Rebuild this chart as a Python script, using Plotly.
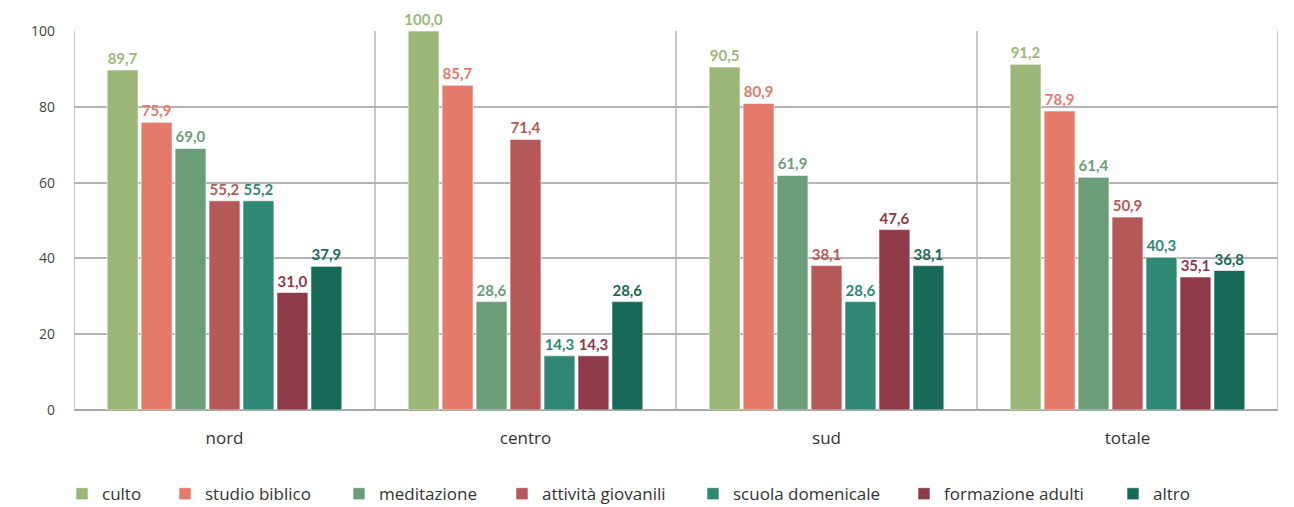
import plotly.graph_objects as go

categories = ["nord", "centro", "sud", "totale"]
series_names = ["culto", "studio biblico", "meditazione", "attività giovanili",
                "scuola domenicale", "formazione adulti", "altro"]
culto = [89.7, 100.0, 90.5, 91.2]
studio_biblico = [75.9, 85.7, 80.9, 78.9]
meditazione = [69.0, 28.6, 61.9, 61.4]
attivita_giovanili = [55.2, 71.4, 38.1, 50.9]
scuola_domenicale = [55.2, 14.3, 28.6, 40.3]
formazione_adulti = [31.0, 14.3, 47.6, 35.1]
altro = [37.9, 28.6, 38.1, 36.8]
y_ticks = [0, 20, 40, 60, 80, 100]

values = [culto, studio_biblico, meditazione, attivita_giovanili,
          scuola_domenicale, formazione_adulti, altro]
colors = ["#9bb777", "#e57a6a", "#6b9e78", "#b55858",
          "#2e8874", "#8e3a48", "#186a58"]

# plot area geometry (pixels) used to place the legend entries
PLOT_L, PLOT_W = 74, 1204
legend_px = [62, 165, 339, 502, 693, 904, 1113]

fig = go.Figure()
for i, (name, vals, col) in enumerate(zip(series_names, values, colors)):
    lg = "legend" if i == 0 else f"legend{i + 1}"
    fig.add_trace(go.Bar(
        name=name, x=categories, y=vals, legend=lg,
        marker=dict(color=col, line=dict(color="rgba(255,255,255,0.6)", width=1)),
        texttemplate="%{y:.1f}", textposition="outside",
        textfont=dict(family="Lato", size=15, color=col, weight="bold"),
        constraintext="none", cliponaxis=False,
    ))

legends = {}
for i, px in enumerate(legend_px):
    key = "legend" if i == 0 else f"legend{i + 1}"
    legends[key] = dict(
        orientation="h", x=(px - PLOT_L) / PLOT_W, xanchor="left",
        y=-0.222, yanchor="middle", bgcolor="rgba(0,0,0,0)",
        font=dict(family="Open Sans", size=17, color="#333333"), itemwidth=30,
    )

# category dividers
for b in [-0.5, 0.5, 1.5, 2.5, 3.5]:
    fig.add_shape(type="line", xref="x", yref="y", x0=b, x1=b, y0=0, y1=100,
                  line=dict(color="#b4b4b4", width=1.5), layer="below")

fig.update_layout(
    width=1294, height=507,
    margin=dict(l=74, r=16, t=31, b=97, autoexpand=False),
    paper_bgcolor="white", plot_bgcolor="white",
    separators=",.",
    barmode="group", bargap=0.21, bargroupgap=0.09,
    font=dict(family="Lato", color="#333333"),
    showlegend=True,
    xaxis=dict(range=[-0.5, 3.5], showgrid=False, showline=False, ticks="",
               automargin=False,
               tickfont=dict(family="Open Sans", size=17, color="#333333"),
               ticklabelstandoff=16),
    yaxis=dict(range=[0, 100], tickvals=y_ticks, showgrid=True, automargin=False,
               gridcolor="#b4b4b4", gridwidth=1.5, zeroline=True,
               zerolinecolor="#a8a8a8", zerolinewidth=2,
               tickfont=dict(family="Open Sans", size=14, color="#444444"),
               ticklabelstandoff=18, showline=False),
    **legends,
)

fig.write_html("out.html")
